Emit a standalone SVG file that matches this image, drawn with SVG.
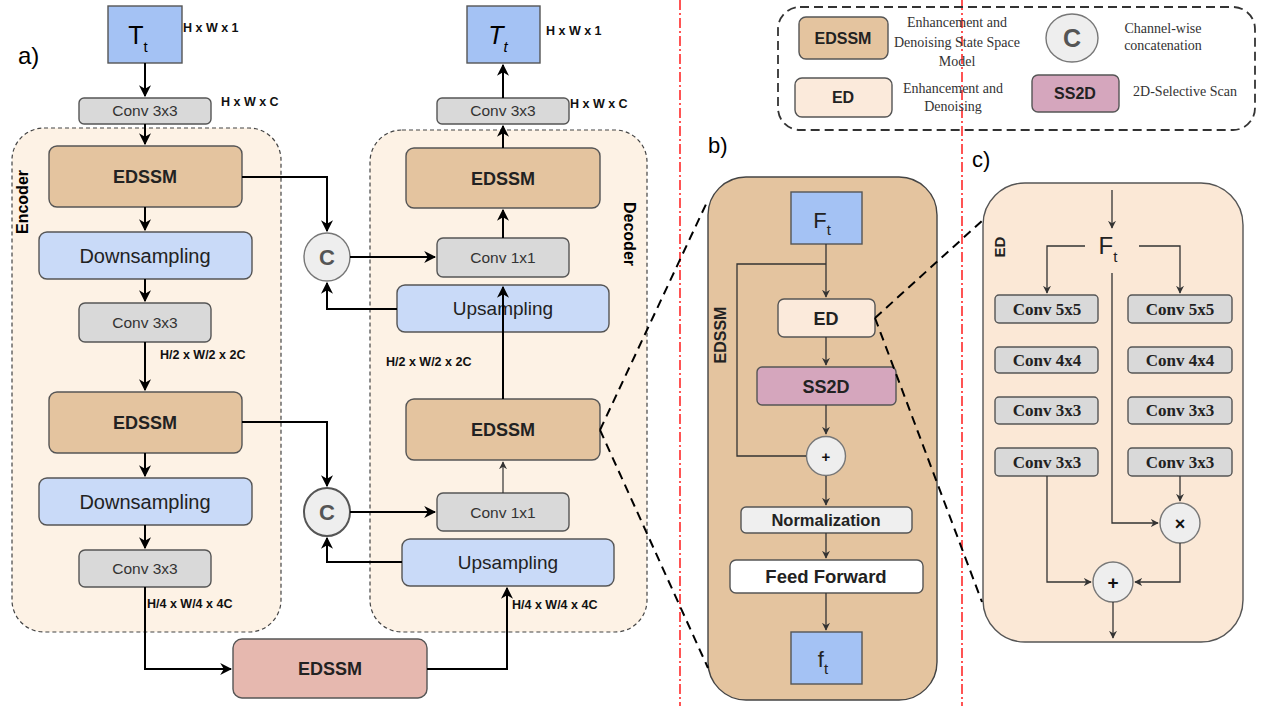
<svg xmlns="http://www.w3.org/2000/svg" width="1268" height="706" viewBox="0 0 1268 706">
<defs>
<marker id="ah" viewBox="0 0 10 10" refX="9" refY="5" markerWidth="12" markerHeight="12" markerUnits="userSpaceOnUse" orient="auto"><path d="M0,0 L10,5 L0,10 L3,5 z" fill="#000"/></marker>
<marker id="as" viewBox="0 0 10 10" refX="9" refY="5" markerWidth="8" markerHeight="8" markerUnits="userSpaceOnUse" orient="auto"><path d="M0,0 L10,5 L0,10 L3,5 z" fill="#333"/></marker>
<style>
.box{stroke:#555;stroke-width:1.4}
.blue{fill:#a4c2f4}
.lblue{fill:#c9daf8}
.gray{fill:#d9d9d9}
.tan{fill:#e4c49f}
.pink{fill:#e6b8af}
.ed{fill:#fbeadb}
.ss{fill:#d5a6bd}
.circ{fill:#eeeeee;stroke:#777;stroke-width:1.4}
.cont{fill:#fdf2e5;stroke:#444;stroke-width:1.2;stroke-dasharray:4,3}
.sans{font-family:"Liberation Sans",Arial,sans-serif}
.serif{font-family:"Liberation Serif","Times New Roman",serif}
.b{font-weight:bold}
.dim{font-family:"Liberation Sans",Arial,sans-serif;font-weight:bold;font-size:12.5px;fill:#111}
.c{text-anchor:middle}
.conn{fill:none;stroke:#000;stroke-width:2}
.thin{fill:none;stroke:#333;stroke-width:1.3}
.zoomline{fill:none;stroke:#000;stroke-width:2;stroke-dasharray:9,6}
.red{stroke:#ff2a2a;stroke-width:1.6;stroke-dasharray:10,3,2,3}
</style>
</defs>
<rect width="1268" height="706" fill="#fff"/>

<!-- red separators -->
<g id="separators">
<line class="red" x1="680" y1="0" x2="680" y2="706"/>
<line class="red" x1="962" y1="0" x2="962" y2="706"/>
</g>

<!-- containers -->
<g id="encoder">
<rect class="cont" x="12" y="128" width="269" height="504" rx="32"/>
<text class="sans b" font-size="16" text-anchor="middle" transform="translate(28,202) rotate(-90)">Encoder</text>
</g>
<g id="decoder">
<rect class="cont" x="370" y="130" width="277" height="502" rx="32"/>
<text class="sans b" font-size="16" text-anchor="middle" transform="translate(624,234) rotate(90)">Decoder</text>
</g>

<text class="sans" x="18" y="64" font-size="24">a)</text>
<text class="sans" x="708" y="153" font-size="22">b)</text>
<text class="sans" x="972" y="167" font-size="22">c)</text>

<!-- encoder nodes -->
<g id="in-T">
<rect class="box blue" x="108" y="6" width="74" height="57"/>
<text class="sans" x="138" y="44" font-size="25" text-anchor="middle">T<tspan font-size="15" dy="8">t</tspan></text>
<text class="dim" x="183" y="32">H x W x 1</text>
</g>
<g id="enc-conv0">
<rect class="box gray" x="79" y="98" width="132" height="26" rx="5"/>
<text class="sans c" x="145" y="116" font-size="15.5" fill="#333">Conv 3x3</text>
<text class="dim" x="221" y="106">H x W x C</text>
</g>
<g id="enc-edssm1">
<rect class="box tan" x="49" y="146" width="193" height="61" rx="8"/>
<text class="sans b c" x="145" y="183" font-size="18" fill="#222">EDSSM</text>
</g>
<g id="enc-down1">
<rect class="box lblue" x="39" y="232" width="213" height="47" rx="8"/>
<text class="sans c" x="145" y="263" font-size="20" fill="#222">Downsampling</text>
</g>
<g id="enc-conv1">
<rect class="box gray" x="79" y="303" width="132" height="39" rx="6"/>
<text class="sans c" x="145" y="328" font-size="15.5" fill="#333">Conv 3x3</text>
<text class="dim" x="160" y="359">H/2 x W/2 x 2C</text>
</g>
<g id="enc-edssm2">
<rect class="box tan" x="49" y="392" width="193" height="61" rx="8"/>
<text class="sans b c" x="145" y="429" font-size="18" fill="#222">EDSSM</text>
</g>
<g id="enc-down2">
<rect class="box lblue" x="39" y="478" width="213" height="47" rx="8"/>
<text class="sans c" x="145" y="509" font-size="20" fill="#222">Downsampling</text>
</g>
<g id="enc-conv2">
<rect class="box gray" x="79" y="550" width="132" height="37" rx="6"/>
<text class="sans c" x="145" y="574" font-size="15.5" fill="#333">Conv 3x3</text>
<text class="dim" x="147" y="608">H/4 x W/4 x 4C</text>
</g>
<g id="bottleneck">
<rect class="box pink" x="233" y="639" width="194" height="59" rx="9"/>
<text class="sans b c" x="330" y="675" font-size="18" fill="#222">EDSSM</text>
</g>

<!-- decoder nodes -->
<g id="out-T">
<rect class="box blue" x="467" y="6" width="73" height="57"/>
<text class="sans" x="498" y="44" font-size="25" font-style="italic" text-anchor="middle">T<tspan font-size="15" dy="8">t</tspan></text>
<text class="dim" x="546" y="35">H x W x 1</text>
</g>
<g id="dec-conv0">
<rect class="box gray" x="437" y="98" width="132" height="26" rx="5"/>
<text class="sans c" x="503" y="116" font-size="15.5" fill="#333">Conv 3x3</text>
<text class="dim" x="570" y="108">H x W x C</text>
</g>
<g id="dec-edssm1">
<rect class="box tan" x="406" y="148" width="194" height="60" rx="8"/>
<text class="sans b c" x="503" y="185" font-size="18" fill="#222">EDSSM</text>
</g>
<g id="dec-conv1">
<rect class="box gray" x="437" y="238" width="132" height="39" rx="6"/>
<text class="sans c" x="503" y="263" font-size="15.5" fill="#333">Conv 1x1</text>
</g>
<g id="dec-up1">
<rect class="box lblue" x="397" y="285" width="212" height="47" rx="8"/>
<text class="sans c" x="503" y="315" font-size="19" fill="#222">Upsampling</text>
<text class="dim" x="386" y="366">H/2 x W/2 x 2C</text>
</g>
<g id="dec-edssm2">
<rect class="box tan" x="406" y="399" width="194" height="61" rx="8"/>
<text class="sans b c" x="503" y="436" font-size="18" fill="#222">EDSSM</text>
</g>
<g id="dec-conv2">
<rect class="box gray" x="437" y="493" width="132" height="38" rx="6"/>
<text class="sans c" x="503" y="518" font-size="15.5" fill="#333">Conv 1x1</text>
</g>
<g id="dec-up2">
<rect class="box lblue" x="402" y="539" width="212" height="47" rx="8"/>
<text class="sans c" x="508" y="569" font-size="19" fill="#222">Upsampling</text>
<text class="dim" x="512" y="609">H/4 x W/4 x 4C</text>
</g>

<g id="concat1">
<ellipse class="circ" cx="327" cy="257" rx="23" ry="24"/>
<text class="sans b c" x="327" y="265" font-size="22" fill="#555">C</text>
</g>
<g id="concat2">
<ellipse class="circ" cx="327" cy="512" rx="23" ry="24" style="stroke:#555;stroke-width:2"/>
<text class="sans b c" x="327" y="520" font-size="22" fill="#555">C</text>
</g>

<!-- legend -->
<g id="legend">
<rect x="778" y="7" width="477" height="123" rx="22" fill="none" stroke="#333" stroke-width="1.8" stroke-dasharray="9,5"/>
<rect class="box tan" x="799" y="17" width="89" height="42" rx="7"/>
<text class="sans b c" x="843" y="44" font-size="16" fill="#222">EDSSM</text>
<text class="serif c" x="957" y="27" font-size="14" fill="#333">Enhancement and</text>
<text class="serif c" x="957" y="47" font-size="14" fill="#333">Denoising State Space</text>
<text class="serif c" x="957" y="66" font-size="14" fill="#333">Model</text>
<ellipse class="circ" cx="1072" cy="38" rx="26" ry="24"/>
<text class="sans b c" x="1072" y="47" font-size="25" fill="#555">C</text>
<text class="serif c" x="1163" y="33" font-size="14" fill="#333">Channel-wise</text>
<text class="serif c" x="1163" y="50" font-size="14" fill="#333">concatenation</text>
<rect class="box ed" x="795" y="78" width="97" height="39" rx="7"/>
<text class="sans b c" x="843" y="103" font-size="16" fill="#222">ED</text>
<text class="serif c" x="953" y="93" font-size="14" fill="#333">Enhancement and</text>
<text class="serif c" x="953" y="111" font-size="14" fill="#333">Denoising</text>
<rect class="box ss" x="1032" y="75" width="87" height="37" rx="6"/>
<text class="sans b c" x="1075" y="99" font-size="16" fill="#222">SS2D</text>
<text class="serif c" x="1185" y="96" font-size="14" fill="#333">2D-Selective Scan</text>
</g>

<!-- panel b -->
<g id="b-edssm">
<rect x="708" y="177" width="229" height="523" rx="38" fill="#e4c49f" stroke="#444" stroke-width="1.4"/>
<text class="sans b c" font-size="16" fill="#222" transform="translate(726,335) rotate(-90)">EDSSM</text>
</g>
<g id="b-F">
<rect class="box blue" x="791" y="192" width="71" height="52"/>
<text class="sans c" x="822" y="228" font-size="22" fill="#222">F<tspan font-size="15" dy="7">t</tspan></text>
</g>
<g id="b-ED">
<rect class="box ed" x="778" y="299" width="97" height="38" rx="6"/>
<text class="sans b c" x="826" y="325" font-size="18" fill="#222">ED</text>
</g>
<g id="b-SS2D">
<rect class="box ss" x="757" y="367" width="139" height="38" rx="5"/>
<text class="sans b c" x="826" y="393" font-size="18" fill="#222">SS2D</text>
</g>
<g id="b-plus">
<circle class="circ" cx="826" cy="456" r="19.5"/>
<text class="sans b c" x="826" y="462" font-size="15" fill="#111">+</text>
</g>
<g id="b-norm">
<rect class="box" x="741" y="507" width="171" height="26" rx="5" fill="#efefef"/>
<text class="sans b c" x="826" y="526" font-size="16.5" fill="#222">Normalization</text>
</g>
<g id="b-ff">
<rect class="box" x="730" y="560" width="193" height="33" rx="6" fill="#fff"/>
<text class="sans b c" x="826" y="583" font-size="18.5" fill="#222">Feed Forward</text>
</g>
<g id="b-f">
<rect class="box blue" x="791" y="632" width="71" height="52"/>
<text class="sans c" x="823" y="667" font-size="22" fill="#222">f<tspan font-size="15" dy="7">t</tspan></text>
</g>

<!-- panel c -->
<g id="c-ed">
<rect x="983" y="183" width="260" height="459" rx="42" fill="#fbe8d6" stroke="#555" stroke-width="1.4"/>
<text class="sans b c" font-size="15" fill="#222" transform="translate(1005,247) rotate(-90)">ED</text>
<text class="sans c" x="1108" y="254" font-size="24" fill="#222">F<tspan font-size="15" dy="8">t</tspan></text>
</g>
<g id="c-left">
<rect class="box gray" x="995" y="295" width="103" height="28" rx="4"/>
<text class="serif b c" x="1047" y="315" font-size="17" fill="#222">Conv 5x5</text>
<rect class="box gray" x="995" y="347" width="103" height="26" rx="4"/>
<text class="serif b c" x="1047" y="366" font-size="17" fill="#222">Conv 4x4</text>
<rect class="box gray" x="995" y="397" width="103" height="27" rx="4"/>
<text class="serif b c" x="1047" y="416" font-size="17" fill="#222">Conv 3x3</text>
<rect class="box gray" x="995" y="448" width="103" height="28" rx="4"/>
<text class="serif b c" x="1047" y="468" font-size="17" fill="#222">Conv 3x3</text>
</g>
<g id="c-right">
<rect class="box gray" x="1128" y="295" width="104" height="28" rx="4"/>
<text class="serif b c" x="1180" y="315" font-size="17" fill="#222">Conv 5x5</text>
<rect class="box gray" x="1128" y="347" width="104" height="26" rx="4"/>
<text class="serif b c" x="1180" y="366" font-size="17" fill="#222">Conv 4x4</text>
<rect class="box gray" x="1128" y="397" width="104" height="27" rx="4"/>
<text class="serif b c" x="1180" y="416" font-size="17" fill="#222">Conv 3x3</text>
<rect class="box gray" x="1128" y="448" width="104" height="28" rx="4"/>
<text class="serif b c" x="1180" y="468" font-size="17" fill="#222">Conv 3x3</text>
</g>
<g id="c-mul">
<circle class="circ" cx="1180" cy="523" r="20"/>
<text class="sans b c" x="1180" y="530" font-size="18" fill="#111">×</text>
</g>
<g id="c-plus">
<circle class="circ" cx="1113" cy="582" r="20"/>
<text class="sans b c" x="1113" y="589" font-size="19" fill="#111">+</text>
</g>

<!-- connectors -->
<g id="connectors">
<path class="conn" d="M145,63 V96" marker-end="url(#ah)"/>
<path class="conn" d="M145,124 V144" marker-end="url(#ah)"/>
<path class="conn" d="M145,207 V230" marker-end="url(#ah)"/>
<path class="conn" d="M145,279 V301" marker-end="url(#ah)"/>
<path class="conn" d="M145,342 V390" marker-end="url(#ah)"/>
<path class="conn" d="M145,453 V476" marker-end="url(#ah)"/>
<path class="conn" d="M145,525 V548" marker-end="url(#ah)"/>
<path class="conn" d="M145,587 V669 H231" marker-end="url(#ah)"/>
<path class="conn" d="M427,669 H507 V588" marker-end="url(#ah)"/>
<path class="conn" d="M242,177 H327 V231" marker-end="url(#ah)"/>
<path class="conn" d="M350,257 H435" marker-end="url(#ah)"/>
<path class="conn" d="M397,309 H327 V283" marker-end="url(#ah)"/>
<path class="conn" d="M242,422 H327 V486" marker-end="url(#ah)"/>
<path class="conn" d="M350,512 H435" marker-end="url(#ah)"/>
<path class="conn" d="M402,562 H327 V538" marker-end="url(#ah)"/>
<path class="conn" d="M503,399 V287" marker-end="url(#ah)"/>
<path class="conn" d="M503,238 V210" marker-end="url(#ah)"/>
<path class="conn" d="M503,148 V126" marker-end="url(#ah)"/>
<path class="conn" d="M503,98 V65" marker-end="url(#ah)"/>
<path fill="none" stroke="#333" stroke-width="1.2" d="M503,493 V462" marker-end="url(#as)"/>
<path class="zoomline" d="M600,430 L708,200"/>
<path class="zoomline" d="M600,430 L708,668"/>
<path class="zoomline" d="M875,318 L983,220"/>
<path class="zoomline" d="M875,318 L982,602"/>
<path class="thin" d="M826,244 V297" marker-end="url(#as)"/>
<path class="thin" d="M826,264 H737 V456 H806"/>
<path class="thin" d="M826,337 V365" marker-end="url(#as)"/>
<path class="thin" d="M826,405 V434" marker-end="url(#as)"/>
<path class="thin" d="M826,476 V505" marker-end="url(#as)"/>
<path class="thin" d="M826,533 V558" marker-end="url(#as)"/>
<path class="thin" d="M826,593 V630" marker-end="url(#as)"/>
<path class="thin" d="M1112,190 V228" marker-end="url(#as)"/>
<path class="thin" d="M1085,246 H1047 V293" marker-end="url(#as)"/>
<path class="thin" d="M1139,246 H1180 V293" marker-end="url(#as)"/>
<path class="thin" d="M1112,273 V523 H1158" marker-end="url(#as)"/>
<path class="thin" d="M1180,476 V501" marker-end="url(#as)"/>
<path class="thin" d="M1047,476 V582 H1091" marker-end="url(#as)"/>
<path class="thin" d="M1180,543 V582 H1135" marker-end="url(#as)"/>
<path class="thin" d="M1113,602 V638" marker-end="url(#as)"/>
</g>
</svg>
